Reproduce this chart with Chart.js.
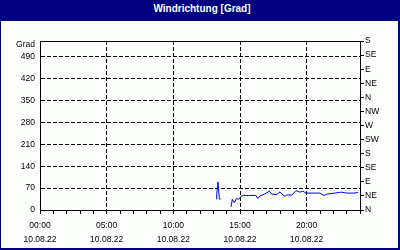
<!DOCTYPE html>
<html>
<head>
<meta charset="utf-8">
<script src="https://cdn.jsdelivr.net/npm/chart.js@4/dist/chart.umd.min.js"></script>
<style>
	html, body { margin: 0; padding: 0; background: #ffffff; }
	#frame {
		width: 400px; height: 250px; box-sizing: border-box;
		border-left: 1px solid #000080; border-right: 2px solid #000080; border-bottom: 2px solid #000080;
		background: #fcfffc; overflow: hidden;
	}
	#title {
		font: bold 10px "Liberation Sans", Arial, sans-serif;
		height: 21px; line-height: 18px; background: #000080; color: #ffffff;
		text-align: center; padding-left: 5px;
	}
	#box { position: relative; width: 397px; height: 227px; }
</style>
</head>
<body>
<div id="frame">
	<div id="title">Windrichtung [Grad]</div>
	<div id="box"><canvas id="windChart"></canvas></div>
</div>
<script>
// values (hour of day, degrees); null breaks the line
const hours = [
	13.22, 13.25, 13.35, 13.45, 13.55, 13.9,
	14.33, 14.42, 14.57, 14.75, 14.9, 15.05, 15.25, 15.62, 16.18, 16.33, 16.5, 16.8,
	17.2, 17.37, 17.75, 18.0, 18.15, 18.37, 18.52, 18.9, 19.2, 19.5, 19.72, 19.95,
	20.47, 21.0, 21.3, 21.52, 22.12, 22.57, 23.02, 23.55, 23.85
];
const degrees = [
	35, 48, 90, 35, 35, null,
	10, 34, 23, 37, 34, 42, 47, 46, 47, 37, 45, 50,
	60, 51, 49, 58, 51, 44, 48, 48, 62, 57, 60, 54,
	54, 54, 46, 51, 54, 57, 54, 54, 56
];

const timeLabels = [ '00:00', '05:00', '10:00', '15:00', '20:00' ];
const dateLabel = '10.08.22';
const gradTicks = [ 0, 70, 140, 210, 280, 350, 420, 490 ];
const compassLabels = [ 'N', 'NE', 'E', 'SE', 'S', 'SW', 'W', 'NW', 'N', 'NE', 'E', 'SE', 'S' ];
const compassStep = 45;
const gradMax = 540;
const dayHours = 24;

const font = { family: '"Liberation Sans", Arial, sans-serif', size: 8.5 };

// top edge of the plot box plus the "Grad" unit label
const framePlugin = {
	id: 'framePlugin',
	afterDraw( chart ){
		const { ctx, chartArea } = chart;
		const y = Math.round( chartArea.top ) + 0.5;
		ctx.save();
		ctx.strokeStyle = '#000000';
		ctx.lineWidth = 1;
		ctx.beginPath();
		ctx.moveTo( chartArea.left, y );
		ctx.lineTo( chartArea.right, y );
		ctx.stroke();
		ctx.fillStyle = '#000000';
		ctx.font = '8.5px "Liberation Sans", Arial, sans-serif';
		ctx.textAlign = 'right';
		ctx.textBaseline = 'middle';
		ctx.fillText( 'Grad', chartArea.left - 5, chartArea.top + 4 );
		ctx.restore();
	}
};

new Chart( document.getElementById( 'windChart' ), {
	type: 'line',
	data: {
		datasets: [{
			data: hours.map( ( h, i ) => ({ x: h, y: degrees[i] }) ),
			borderColor: '#0000ff',
			borderWidth: 1,
			pointRadius: 0,
			tension: 0,
			yAxisID: 'y'
		}]
	},
	options: {
		responsive: true,
		maintainAspectRatio: false,
		animation: false,
		devicePixelRatio: 1,
		layout: { padding: { top: 20, left: 0, right: 0, bottom: 0 } },
		plugins: { legend: { display: false }, tooltip: { enabled: false }, title: { display: false } },
		scales: {
			x: {
				type: 'linear',
				min: 0,
				max: dayHours,
				afterBuildTicks: scale => { scale.ticks = Array.from( { length: dayHours + 1 }, ( _, i ) => ({ value: i }) ); },
				afterFit: scale => { scale.height = 38; },
				grid: {
					color: c => ( c.tick && c.tick.value % 5 === 0 ) ? '#000000' : 'rgba(0,0,0,0)',
					tickColor: '#000000',
					tickLength: 4,
					lineWidth: 1
				},
				border: { display: true, color: '#000000', dash: [ 4, 2 ] },
				ticks: {
					autoSkip: false,
					maxRotation: 0,
					padding: 5,
					color: '#000000',
					font: { ...font, lineHeight: 1.65 },
					callback: v => ( v % 5 === 0 && v < dayHours ) ? [ timeLabels[v / 5], dateLabel ] : ''
				}
			},
			y: {
				position: 'left',
				min: 0,
				max: gradMax,
				afterBuildTicks: scale => { scale.ticks = gradTicks.map( v => ({ value: v }) ); },
				afterFit: scale => { scale.width = 39; },
				grid: { color: '#000000', drawTicks: false, lineWidth: 1 },
				border: { display: true, color: '#000000', dash: [ 4, 2 ] },
				ticks: { padding: 5, color: '#000000', font: font }
			},
			y2: {
				position: 'right',
				min: 0,
				max: gradMax,
				afterBuildTicks: scale => { scale.ticks = compassLabels.map( ( _, i ) => ({ value: i * compassStep }) ); },
				afterFit: scale => { scale.width = 38; },
				grid: { drawOnChartArea: false, color: '#000000', tickColor: '#000000', tickLength: 4 },
				border: { display: true, color: '#000000' },
				ticks: {
					padding: 1,
					color: '#000000',
					font: font,
					callback: v => compassLabels[ Math.round( v / compassStep ) ]
				}
			}
		}
	},
	plugins: [ framePlugin ]
});
</script>
</body>
</html>
